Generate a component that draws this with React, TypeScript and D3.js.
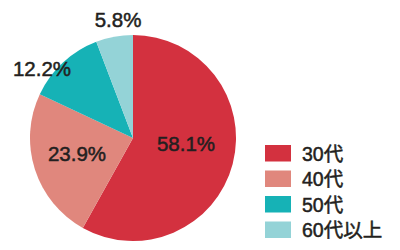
import React from "react";
import * as d3 from "d3";

const categories = ["30代", "40代", "50代", "60代以上"];
const shares = [58.1, 23.9, 12.2, 5.8];
const colors = ["#d3313f", "#e0877d", "#16b2b6", "#94d3d7"];

// Label anchor offsets (from pie center), in px
const labelOffsets: [number, number][] = [
  [53, 13],
  [-56, 23],
  [-91, -62],
  [-15, -111],
];

const W = 400;
const H = 250;
const cx = 133;
const cy = 138;
const radius = 103;

const FONT = "'Liberation Sans', Arial, Helvetica, 'Noto Sans CJK JP', sans-serif";

export default function App() {
  const pie = d3
    .pie<number>()
    .sort(null)
    .value((d) => d)(shares);
  const arc = d3.arc<d3.PieArcDatum<number>>().innerRadius(0).outerRadius(radius);

  const legendX = 265;
  const legendY = 145;
  const rowH = 25.5;

  return (
    <svg
      width={W}
      height={H}
      style={{ position: "absolute", left: 0, top: 0, background: "#fff" }}
    >
      <g transform={`translate(${cx},${cy})`}>
        {pie.map((p, i) => (
          <path key={i} d={arc(p) || ""} fill={colors[i]} />
        ))}
        {pie.map((p, i) => (
          <text
            key={"l" + i}
            x={labelOffsets[i][0]}
            y={labelOffsets[i][1]}
            textAnchor="middle"
            fontFamily={FONT}
            fontSize={20.5}
            fill="#231f20"
            stroke="#231f20"
            strokeWidth={0.5}
          >
            {d3.format(".1f")(p.data)}%
          </text>
        ))}
      </g>
      <g>
        {categories.map((c, i) => (
          <g key={c} transform={`translate(${legendX},${legendY + i * rowH})`}>
            <rect width={26} height={16.5} fill={colors[i]} />
            <text
              x={37}
              y={15.5}
              fontFamily={FONT}
              fontSize={19.5}
              fill="#231f20"
              stroke="#231f20"
              strokeWidth={0.5}
            >
              {c}
            </text>
          </g>
        ))}
      </g>
    </svg>
  );
}
